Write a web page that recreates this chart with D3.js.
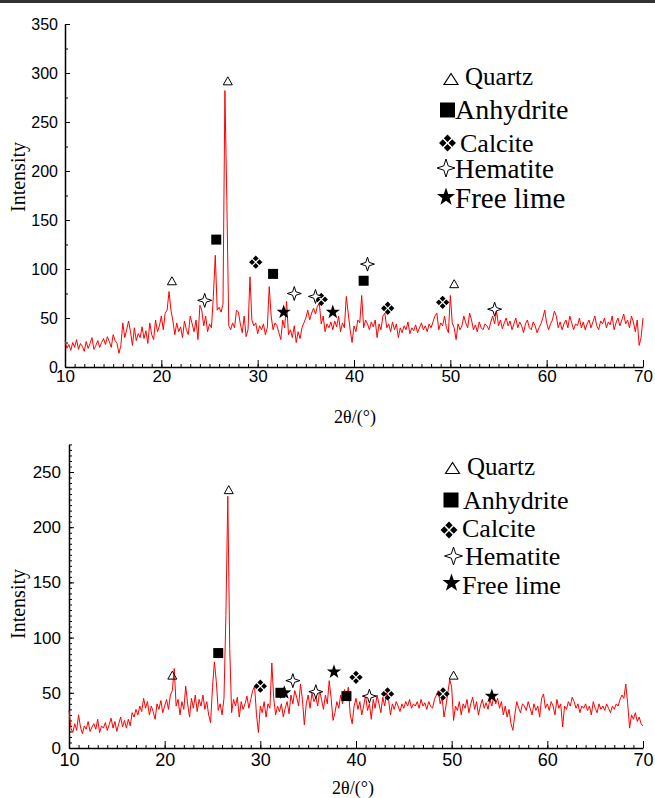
<!DOCTYPE html>
<html>
<head>
<meta charset="utf-8">
<script src="https://cdn.jsdelivr.net/npm/d3@7"></script>
<style>
  body { margin: 0; background: #fff; }
  svg { display: block; }
</style>
</head>
<body>
<script>
// 2theta grid, 0.2 degree step
var twoTheta = d3.range(0, 301).map(function(i) { return +(10 + i * 0.2).toFixed(1); });

// upper pattern, intensity
var intensityTop = [
  27, 19, 23, 17, 25, 20, 28, 18, 24, 21,
  16, 26, 19, 24, 30, 18, 22, 27, 20, 25,
  29, 23, 31, 26, 20, 33, 27, 24, 14, 22,
  45, 30, 38, 47, 36, 22, 40, 27, 34, 30,
  41, 29, 37, 24, 45, 33, 28, 48, 36, 42,
  52, 38, 55, 58, 77, 58, 47, 33, 45, 36,
  41, 30, 47, 38, 33, 52, 44, 36, 48, 28,
  63, 58, 42, 52, 36, 44, 40, 72, 114, 58,
  61, 56, 64, 282, 170, 42, 38, 45, 40, 58,
  56, 44, 35, 52, 31, 38, 92, 48, 42, 45,
  34, 42, 38, 44, 33, 40, 82, 52, 38, 45,
  42, 35, 28, 48, 40, 67, 33, 38, 30, 42,
  25, 36, 29, 40, 45, 50, 58, 48, 55, 60,
  54, 62, 65, 44, 52, 36, 44, 40, 46, 38,
  47, 41, 52, 36, 45, 40, 72, 55, 38, 25,
  42, 36, 48, 45, 73, 40, 48, 44, 38, 46,
  41, 48, 30, 44, 38, 52, 55, 40, 44, 36,
  46, 38, 44, 30, 40, 35, 42, 38, 46, 34,
  40, 37, 43, 35, 40, 45, 38, 42, 36, 44,
  40, 46, 52, 55, 38, 45, 42, 52, 40, 35,
  73, 45, 40, 28, 44, 38, 42, 52, 45, 40,
  55, 48, 38, 43, 36, 46, 40, 38, 44, 42,
  38, 46, 52, 44, 57, 42, 48, 39, 45, 50,
  42, 47, 38, 44, 50, 40, 46, 42, 35, 44,
  48, 40, 38, 46, 42, 35, 40, 44, 50, 58,
  45, 38, 44, 48, 57, 52, 40, 46, 38, 44,
  48, 40, 52, 45, 38, 44, 42, 50, 40, 46,
  38, 44, 48, 40, 46, 52, 42, 38, 47, 44,
  50, 40, 46, 43, 52, 38, 45, 50, 42, 48,
  54, 44, 48, 40, 52, 46, 36, 48, 22, 30,
  50
];

// lower pattern
var intensityBottom = [
  34, 18, 14, 22, 16, 30, 19, 13, 20, 17,
  24, 15, 19, 22, 17, 26, 14, 20, 18, 23,
  16, 21, 27, 18, 24, 15, 22, 28, 19, 25,
  18, 26, 20, 32, 28, 35, 30, 38, 33, 45,
  36, 42, 30, 38, 33, 26, 40, 35, 43, 32,
  38, 44, 35, 48, 52, 72, 38, 44, 30, 42,
  35, 56, 40, 28, 45, 36, 48, 33, 44, 38,
  48, 35, 42, 30, 23, 55, 78, 60, 34, 40,
  30, 45, 120, 228, 90, 32, 44, 38, 46, 28,
  42, 35, 40, 47, 36, 44, 52, 56, 30, 14,
  38, 32, 42, 28, 40, 36, 77, 45, 30, 38,
  33, 40, 28, 36, 42, 31, 48, 40, 52, 46,
  38, 58, 44, 21, 40, 48, 36, 50, 42, 46,
  38, 52, 44, 35, 48, 40, 61, 45, 25, 32,
  42, 36, 48, 40, 53, 46, 55, 30, 22, 38,
  45, 35, 42, 30, 38, 48, 34, 40, 26, 44,
  36, 48, 40, 32, 46, 38, 50, 44, 30, 40,
  35, 42, 38, 33, 40, 36, 42, 38, 44, 36,
  40, 38, 42, 36, 44, 38, 41, 35, 42, 38,
  36, 44, 48, 52, 40, 46, 28, 38, 50, 62,
  55, 25, 38, 34, 42, 30, 40, 36, 44, 32,
  40, 46, 35, 42, 30, 38, 44, 36, 41, 35,
  44, 38, 47, 40, 45, 36, 42, 30, 38, 28,
  35, 22, 16, 30, 42, 36, 32, 40, 38, 34,
  42, 36, 30, 40, 34, 38, 28, 45, 49, 36,
  40, 34, 42, 38, 30, 44, 36, 40, 19, 38,
  35, 42, 38, 46, 42, 36, 40, 32, 38, 36,
  40, 34, 38, 30, 42, 36, 32, 40, 35, 38,
  34, 40, 36, 32, 38, 35, 40, 38, 44, 48,
  45, 58, 40, 18, 30, 26, 32, 24, 28, 22,
  20
];

// phase labels [2theta, intensity]
var quartzTop    = [[21.1, 88], [26.9, 292], [50.4, 85]];
var anhydriteTop = [[25.7, 130], [31.6, 95], [41.0, 88]];
var calciteTop   = [[29.8, 107], [36.6, 69], [43.5, 60], [49.2, 66]];
var hematiteTop  = [[24.5, 68], [33.8, 75], [36.0, 72], [41.4, 105], [54.6, 59]];
var limeTop      = [[32.7, 56], [37.8, 56]];

var quartzBottom    = [[20.8, 66], [26.7, 234], [50.2, 66]];
var anhydriteBottom = [[25.6, 86], [32.1, 50], [39.0, 47]];
var calciteBottom   = [[30.0, 56], [40.0, 64], [43.3, 49], [49.1, 49]];
var hematiteBottom  = [[33.4, 61], [35.8, 51], [41.4, 47]];
var limeBottom      = [[32.5, 50], [37.7, 69], [54.2, 47]];

var phaseNames = ["Quartz", "Anhydrite", "Calcite", "Hematite", "Free lime"];
var xTicks = [10, 20, 30, 40, 50, 60, 70];
var yTicksTop = [0, 50, 100, 150, 200, 250, 300, 350];
var yTicksBottom = [0, 50, 100, 150, 200, 250];

var W = 655, H = 798;
var svg = d3.select("body").append("svg")
    .attr("width", W)
    .attr("height", H);

svg.append("rect").attr("x", 0).attr("y", 0).attr("width", W).attr("height", 3).attr("fill", "#333");

// marker shapes, centred on 0,0
function triPath(w, h) {
    return "M0," + (-h/2) + "L" + (w/2) + "," + (h/2) + "L" + (-w/2) + "," + (h/2) + "Z";
}
function diamondsPath(s) {
    // four small diamonds with a white cross between them
    var d = s / 4, r = s / 4 * 0.78, p = "";
    [[0, -d], [d, 0], [0, d], [-d, 0]].forEach(function(c) {
        p += "M" + c[0] + "," + (c[1] - r) + "L" + (c[0] + r) + "," + c[1] +
             "L" + c[0] + "," + (c[1] + r) + "L" + (c[0] - r) + "," + c[1] + "Z";
    });
    return p;
}
function sparklePath(R) {
    var r = R * 0.24;
    return "M0," + (-R) + "L" + r + "," + (-r) + "L" + R + ",0L" + r + "," + r +
           "L0," + R + "L" + (-r) + "," + r + "L" + (-R) + ",0L" + (-r) + "," + (-r) + "Z";
}
function starPath(R) {
    var pts = [];
    for (var i = 0; i < 10; i++) {
        var a = -Math.PI / 2 + i * Math.PI / 5;
        var rr = i % 2 ? R * 0.4 : R;
        pts.push([rr * Math.cos(a), rr * Math.sin(a)]);
    }
    return "M" + pts.join("L") + "Z";
}

function addMarker(g, kind, x, y, big) {
    var m = g.append("path").attr("transform", "translate(" + x + "," + y + ")");
    if (kind == 0) {
        m.attr("d", big ? triPath(14, 11) : triPath(9, 8)).attr("fill", "none")
         .attr("stroke", "#000").attr("stroke-width", big ? 1.2 : 1);
    } else if (kind == 1) {
        var s = big ? 15 : 10;
        m.attr("d", "M" + (-s/2) + "," + (-s/2) + "h" + s + "v" + s + "h" + (-s) + "Z").attr("fill", "#000");
    } else if (kind == 2) {
        m.attr("d", diamondsPath(big ? 19 : 15)).attr("fill", "#000");
    } else if (kind == 3) {
        m.attr("d", sparklePath(big ? 9 : 7)).attr("fill", "#fff")
         .attr("stroke", "#000").attr("stroke-width", 1);
    } else {
        m.attr("d", starPath(big ? 9.5 : 7.5)).attr("fill", "#000");
    }
}

function drawPanel(cfg) {
    var g = svg.append("g");

    var x = d3.scaleLinear().domain([10, 70]).range([cfg.left, 643]);
    var y = d3.scaleLinear().domain([0, cfg.yMax]).range([cfg.bottom, cfg.top]);

    // minor ticks
    g.append("g")
        .attr("transform", "translate(0," + cfg.bottom + ")")
        .call(d3.axisBottom(x).tickValues(d3.range(10, 71, 1)).tickSize(-3).tickFormat(""))
        .call(function(a) { a.select(".domain").remove(); });
    g.append("g")
        .attr("transform", "translate(" + cfg.left + ",0)")
        .call(d3.axisLeft(y).tickValues(d3.range(0, cfg.yMax + 0.1, cfg.yMinor)).tickSize(-3).tickFormat(""))
        .call(function(a) { a.select(".domain").remove(); });

    // major ticks + labels
    var xAxis = g.append("g")
        .attr("transform", "translate(0," + cfg.bottom + ")")
        .call(d3.axisBottom(x).tickValues(xTicks).tickSizeInner(-7).tickSizeOuter(0).tickPadding(cfg.xPad));
    xAxis.selectAll("text").attr("font-size", cfg.xFont + "px");

    var yAxis = g.append("g")
        .attr("transform", "translate(" + cfg.left + ",0)")
        .call(d3.axisLeft(y).tickValues(cfg.yTicks).tickSizeInner(-5).tickSizeOuter(0).tickPadding(cfg.yPad));
    yAxis.selectAll("text").attr("font-size", cfg.yFont + "px");

    g.selectAll(".domain").attr("stroke-width", 1.5);
    g.selectAll(".tick line").attr("stroke-width", 1);
    g.selectAll("text").attr("font-family", "'Liberation Sans', Arial, sans-serif").attr("fill", "#000");

    // pattern
    var line = d3.line()
        .x(function(d, i) { return x(twoTheta[i]); })
        .y(function(d) { return y(d); });
    g.append("path")
        .datum(cfg.values)
        .attr("d", line)
        .attr("fill", "none")
        .attr("stroke", "#ff0000")
        .attr("stroke-width", 1)
        .attr("stroke-linejoin", "round");

    // phase markers
    cfg.markers.forEach(function(list, k) {
        list.forEach(function(p) {
            addMarker(g, k, x(p[0]), y(p[1]), false);
        });
    });

    // titles
    g.append("text")
        .attr("transform", "translate(" + cfg.yTitleX + "," + cfg.yTitleY + ") rotate(-90)")
        .attr("text-anchor", "middle")
        .attr("font-family", "'Liberation Serif', 'Times New Roman', serif")
        .attr("font-size", "20px")
        .text("Intensity");
    g.append("text")
        .attr("x", cfg.xTitleX).attr("y", cfg.xTitleY)
        .attr("text-anchor", "middle")
        .attr("font-family", "'Liberation Serif', 'Times New Roman', serif")
        .attr("font-size", "18px")
        .text("2θ/(°)");

    // legend
    cfg.legend.forEach(function(it, k) {
        addMarker(g, k, it.sx, it.sy, true);
        g.append("text")
            .attr("x", it.tx).attr("y", it.ty)
            .attr("font-family", "'Liberation Serif', 'Times New Roman', serif")
            .attr("font-size", it.fs + "px")
            .text(phaseNames[k]);
    });
}

drawPanel({
    left: 65, top: 24, bottom: 367, yMax: 350, yMinor: 25, yTicks: yTicksTop,
    values: intensityTop,
    markers: [quartzTop, anhydriteTop, calciteTop, hematiteTop, limeTop],
    xFont: 17, xPad: 3, yFont: 16, yPad: 7,
    yTitleX: 25, yTitleY: 177, xTitleX: 355, xTitleY: 423,
    legend: [
        {sx: 451, sy: 79, tx: 465, ty: 85, fs: 25},
        {sx: 447.5, sy: 110, tx: 455, ty: 119, fs: 28},
        {sx: 447.5, sy: 143, tx: 460, ty: 152, fs: 26},
        {sx: 446, sy: 168, tx: 455, ty: 178, fs: 27},
        {sx: 446, sy: 197, tx: 455, ty: 208, fs: 29}
    ]
});

drawPanel({
    left: 69, top: 444.4, bottom: 748, yMax: 275, yMinor: 5, yTicks: yTicksBottom,
    values: intensityBottom,
    markers: [quartzBottom, anhydriteBottom, calciteBottom, hematiteBottom, limeBottom],
    xFont: 18, xPad: 5, yFont: 17, yPad: 8,
    yTitleX: 25, yTitleY: 604, xTitleX: 353, xTitleY: 794,
    legend: [
        {sx: 452.5, sy: 468, tx: 467, ty: 475, fs: 25},
        {sx: 451, sy: 500, tx: 463, ty: 509, fs: 26},
        {sx: 449, sy: 530, tx: 462, ty: 537, fs: 26},
        {sx: 453.5, sy: 556, tx: 465, ty: 565, fs: 26},
        {sx: 451.5, sy: 583, tx: 462, ty: 594, fs: 26}
    ]
});
</script>
</body>
</html>
